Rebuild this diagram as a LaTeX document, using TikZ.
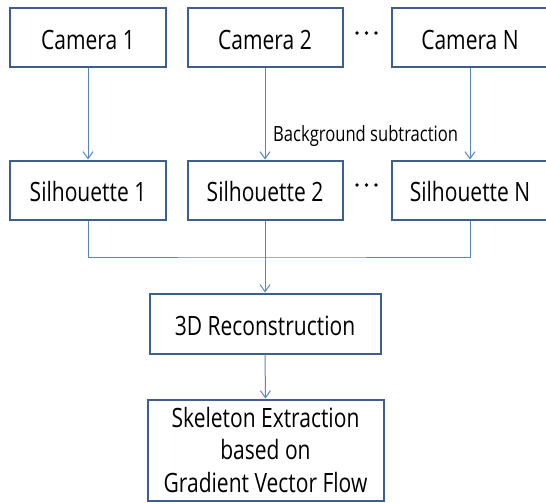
\documentclass[tikz,border=0pt]{standalone}
\usepackage{fontspec}
\setmainfont{Open Sans}[FakeStretch=0.79]
\usetikzlibrary{arrows.meta}
\definecolor{boxline}{HTML}{3E5F8E}
\definecolor{flowline}{HTML}{5A86C0}
\tikzset{
  procbox/.style={draw=boxline, line width=2pt, fill=white, inner sep=0pt,
    minimum height=59pt, text height=23pt, text depth=0pt,
    font=\fontsize{26.6}{32.5}\selectfont},
  flow/.style={draw=flowline, line width=1pt},
  flowarrow/.style={flow, -{Straight Barb[length=7pt,width=10pt,line width=1pt]}},
  dot/.style={circle, fill=black, inner sep=0pt, minimum size=3.6pt},
}
\begin{document}
\begin{tikzpicture}[x=1pt, y=-1pt]
  \useasboundingbox (0,0) rectangle (546,503);
  \fill[white] (0,0) rectangle (546,503);

  % camera row
  \node[procbox, minimum width=156pt] (cam1) at (88,38) {Camera 1};
  \node[procbox, minimum width=155pt] (cam2) at (265,38) {Camera 2};
  \node[procbox, minimum width=157pt] (camN) at (470,38) {Camera N};

  % silhouette row
  \node[procbox, minimum width=156pt] (sil1) at (88,190) {Silhouette 1};
  \node[procbox, minimum width=155pt] (sil2) at (265,190) {Silhouette 2};
  \node[procbox, minimum width=157pt] (silN) at (470,190) {Silhouette N};

  % ellipses between the second and the last column
  \foreach \r/\y in {c/33, s/185} {
    \node[dot] (\r d1) at (357,\y) {};
    \node[dot] (\r d2) at (366.5,\y) {};
    \node[dot] (\r d3) at (376,\y) {};
  }

  % reconstruction stages
  \node[procbox, minimum width=231pt, minimum height=60pt] (recon) at (265,323.5) {3D Reconstruction};
  \node[procbox, minimum width=236pt, minimum height=101pt, text height=, text depth=,
        align=center, yshift=-2pt] (skel) at (265.5,448)
        {Skeleton Extraction\\based on\\Gradient Vector Flow};

  % camera -> silhouette
  \draw[flowarrow] (cam1.south) -- (sil1.north);
  \draw[flowarrow] (cam2.south) -- (sil2.north);
  \draw[flowarrow] (camN.south) -- (silN.north);
  \node[anchor=base west, inner sep=0pt, font=\fontsize{21}{25}\selectfont]
    (bglabel) at (273,141.5) {Background subtraction};

  % silhouettes merge into the reconstruction
  \coordinate (join) at (265,257);
  \draw[flow] (sil1.south) |- (join) -| (silN.south);
  \draw[flow] (sil2.south) -- (join);
  \draw[flowarrow] (join) -- (recon.north);
  \draw[flowarrow] (recon.south) -- (skel.north);
\end{tikzpicture}
\end{document}
